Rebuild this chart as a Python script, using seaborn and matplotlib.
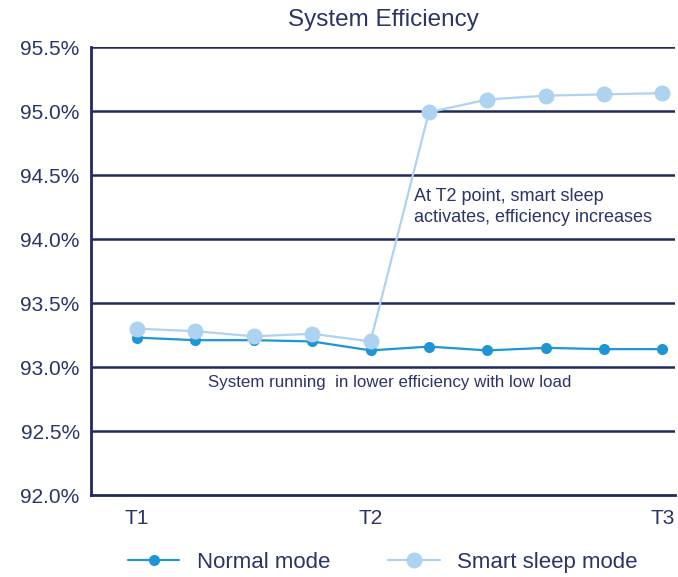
import matplotlib
matplotlib.use("Agg")
import matplotlib.pyplot as plt
import numpy as np
import pandas as pd
import seaborn as sns

# values (efficiency in %)
steps = list(range(10))
normal_mode = [93.23, 93.21, 93.21, 93.20, 93.13, 93.16, 93.13, 93.15, 93.14, 93.14]
smart_sleep = [93.30, 93.28, 93.24, 93.26, 93.20, 94.99, 95.09, 95.12, 95.13, 95.14]
series_names = ["Normal mode", "Smart sleep mode"]
tick_pos = [0, 4, 9]
tick_labels = ["T1", "T2", "T3"]
y_ticks = [92.0, 92.5, 93.0, 93.5, 94.0, 94.5, 95.0, 95.5]

NAVY = "#1f2a5c"
TEXT = "#2b3467"
palette = {"Normal mode": "#1e96d6", "Smart sleep mode": "#aed3f0"}

df = pd.DataFrame({
    "step": steps * 2,
    "efficiency": normal_mode + smart_sleep,
    "mode": [series_names[0]] * len(steps) + [series_names[1]] * len(steps),
})

sns.set_style("white")
plt.rcParams["font.family"] = ["Liberation Sans", "DejaVu Sans"]

fig = plt.figure(figsize=(6.78, 5.77), dpi=100)
ax = fig.add_axes([0.134, 0.142, 0.862, 0.7765])

for name in series_names:
    sub = df[df["mode"] == name]
    big = name == "Smart sleep mode"
    sns.lineplot(data=sub, x="step", y="efficiency", color=palette[name], ax=ax,
                 marker="o", markersize=11.5 if big else 8, markeredgewidth=0,
                 linewidth=1.6, label=name, zorder=4 if big else 3)

ax.set_xlim(-0.79, 9.22)
ax.set_ylim(92.0, 95.5)
ax.set_yticks(y_ticks)
ax.set_yticklabels([f"{v:.1f}%" for v in y_ticks])
ax.set_xticks(tick_pos)
ax.set_xticklabels(tick_labels)
ax.tick_params(axis="both", length=0, labelsize=15, colors=TEXT)
ax.tick_params(axis="y", pad=8)
ax.tick_params(axis="x", pad=10)
ax.set_xlabel("")
ax.set_ylabel("")

for v in y_ticks[1:]:
    ax.axhline(v, color=NAVY, linewidth=1.8, zorder=1)

for side in ["top", "right"]:
    ax.spines[side].set_visible(False)
ax.spines["left"].set_color(NAVY)
ax.spines["left"].set_linewidth(2)
ax.spines["bottom"].set_color(NAVY)
ax.spines["bottom"].set_linewidth(2)

ax.set_title("System Efficiency", fontsize=17.5, color=TEXT, pad=15)

ax.text(4.75, 94.25, "At T2 point, smart sleep\nactivates, efficiency increases",
        fontsize=13, color=TEXT, va="center", ha="left", linespacing=1.25)
ax.text(1.22, 92.88, "System running  in lower efficiency with low load",
        fontsize=12.2, color=TEXT, va="center", ha="left")

leg = ax.legend(loc="upper center", bbox_to_anchor=(0.5, -0.097), ncol=2, frameon=False,
                fontsize=16, handlelength=2.3, handletextpad=0.8, columnspacing=2.6,
                borderaxespad=0.2)
for t in leg.get_texts():
    t.set_color(TEXT)

fig.savefig("out.png", dpi=100)
